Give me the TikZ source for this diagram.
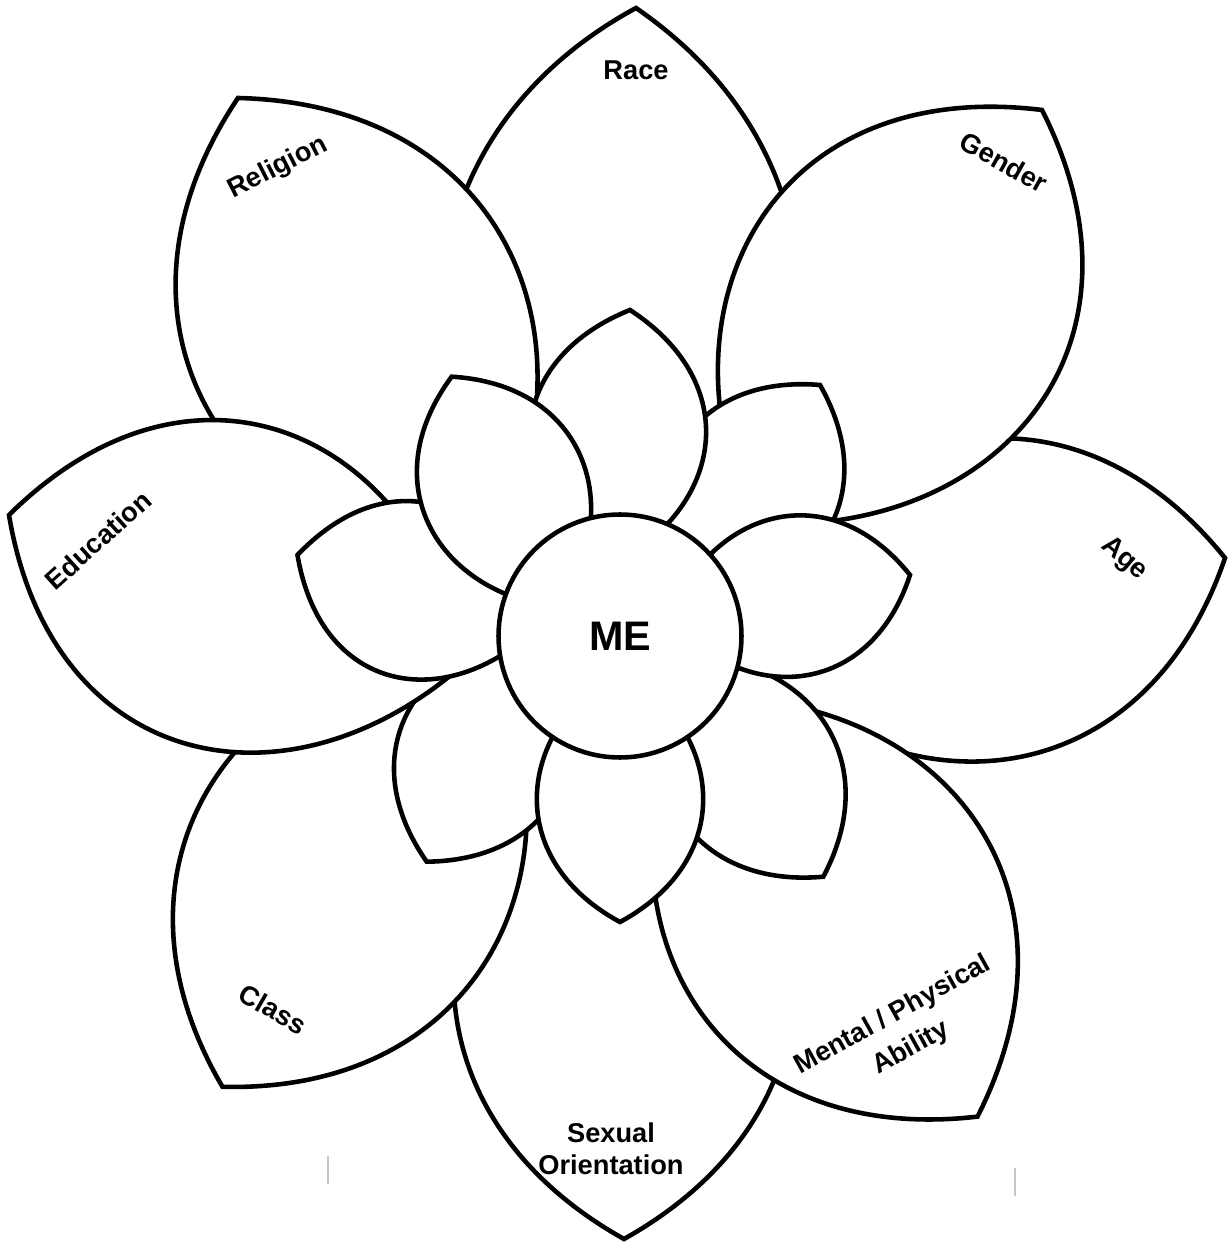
\documentclass[tikz,border=0pt]{standalone}
\usepackage{fontspec}
\setmainfont{Liberation Sans}
\usepackage{tikz}

% leaf shaped petal: tip x, tip y, direction, length, half width
\newcommand{\petal}[5]{%
  \draw[petal,shift={(#1,#2)},rotate=#3] (0,0)
    .. controls ({-0.25*#4},{1.42*#5}) and ({-0.75*#4},{1.25*#5}) .. ({-#4},0)
    .. controls ({-0.75*#4},{-1.25*#5}) and ({-0.25*#4},{-1.42*#5}) .. cycle;}

\begin{document}
\begin{tikzpicture}[x=0.02cm,y=0.02cm,
  petal/.style={draw,fill=white,line width=2.6pt},
  every node/.style={font=\bfseries\fontsize{15.5}{18.5}\selectfont}]
\useasboundingbox (-620,-607) rectangle (608,636);
% outer ring, back to front
\petal{16}{628}{87}{620}{178}
\petal{4}{-603}{-90}{540}{170}
\petal{605}{78}{10}{500}{160}
\petal{-382}{538}{117.4}{530}{170}
\petal{-397.5}{-450.8}{-120.5}{515}{163}
\petal{-193.3}{-225.7}{-117.2}{255}{85}
\petal{-611}{121}{162.1}{480}{163}
\petal{422}{526}{54.9}{505}{167}
\petal{357.5}{-480.6}{-55.1}{510}{167}
% inner ring
\petal{203.3}{-240.7}{-56.4}{265}{86}
\petal{200}{251}{57.4}{255}{85}
\petal{10}{326}{84.4}{260}{88}
\petal{-322.5}{81}{163}{250}{88}
\petal{-168.3}{259.3}{115}{255}{83}
\petal{290}{61}{10.3}{245}{80}
\petal{0}{-286}{-90}{255}{83}
\node[petal,circle,minimum size=4.86cm,inner sep=0pt,
  font=\bfseries\fontsize{23.5}{28}\selectfont] (me) at (0,0) {ME};
% labels
\node (race) at (16,566) {Race};
\node[rotate=-29] (gender) at (384,474) {Gender};
\node[rotate=-40] (age) at (504,77) {Age};
\node[rotate=29,align=center] (ability) at (282,-396) {Mental / Physical\\[3pt]Ability};
\node[align=center] (sexual) at (-9,-513) {Sexual\\Orientation};
\node[rotate=-30] (class) at (-347,-373) {Class};
\node[rotate=42] (education) at (-522,96) {Education};
\node[rotate=27] (religion) at (-342,468) {Religion};
% scan marks
\draw[gray!45,line width=0.6pt] (-292,-520) -- (-292,-548);
\draw[gray!45,line width=0.6pt] (395,-532) -- (395,-560);
\end{tikzpicture}
\end{document}
